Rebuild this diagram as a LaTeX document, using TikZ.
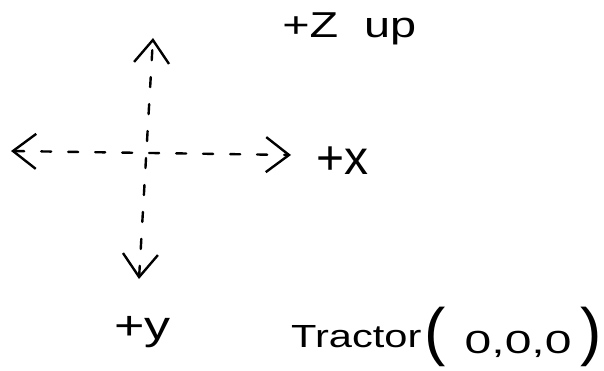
\documentclass[tikz,border=0pt]{standalone}
\usepackage{fontspec}
\usepackage{graphicx}
\setmainfont{Liberation Sans}
\usetikzlibrary{arrows.meta}
\begin{document}
\begin{tikzpicture}[x=1pt,y=-1pt,
  axis/.style={line width=2.4pt, dash pattern=on 10pt off 17pt, line cap=round,
    arrows={Straight Barb[length=23pt,width=35pt]-Straight Barb[length=23pt,width=35pt]}},
  lbl/.style={inner sep=0pt, anchor=base west}]
\fill[white] (0,0) rectangle (604,371);
\useasboundingbox (0,0) rectangle (604,371);
% axes end points
\coordinate (top) at (153,38);
\coordinate (bot) at (139,279);
\coordinate (lft) at (11,151);
\coordinate (rgt) at (291,155);
\draw[axis] (bot) -- (top);
\draw[axis] (lft) -- (rgt);
% labels
\node[lbl, xscale=1.3, font=\fontsize{36}{40}\selectfont] (zup) at (282,38) {+Z\hspace{10pt} up};
\node[lbl, font=\fontsize{48}{52}\selectfont] (xlbl) at (316,175) {+x};
\node[lbl, xscale=1.3, font=\fontsize{40}{44}\selectfont] (ylbl) at (114,339) {+y};
\node[lbl] (tractor) at (291,353)
  {\raisebox{6pt}{\scalebox{1.3}[1]{\fontsize{32}{34}\selectfont Tractor}}\hspace{3pt}{\fontsize{64}{64}\selectfont(}\hspace{19pt}\scalebox{1.5}[1]{\fontsize{32}{34}\selectfont 0,0,0}\hspace{9pt}{\fontsize{64}{64}\selectfont)}\hspace{-6pt}};
\end{tikzpicture}
\end{document}
